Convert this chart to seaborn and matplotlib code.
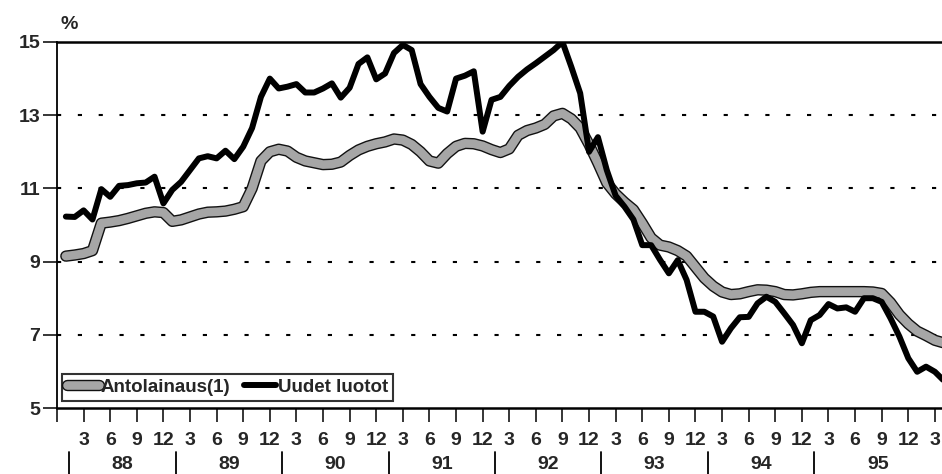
import numpy as np
import pandas as pd
import matplotlib
matplotlib.use("Agg")
import matplotlib.pyplot as plt
import matplotlib.patheffects as pe
import seaborn as sns

# -------------------------------------------------
# DATA (monthly, Jan 1988 = index 0)
# -------------------------------------------------
years = ["88", "89", "90", "91", "92", "93", "94", "95"]
month_labels = ["3", "6", "9", "12"]

antolainaus = [
    9.15, 9.18, 9.22, 9.30, 10.05, 10.08, 10.12, 10.18, 10.25, 10.32, 10.36, 10.34,
    10.10, 10.14, 10.22, 10.30, 10.35, 10.36, 10.38, 10.43, 10.50, 11.00, 11.75, 12.00,
    12.07, 12.02, 11.85, 11.75, 11.70, 11.65, 11.66, 11.72, 11.90, 12.05, 12.15, 12.22,
    12.27, 12.35, 12.32, 12.20, 12.00, 11.75, 11.69, 11.95, 12.15, 12.23, 12.22, 12.16,
    12.06, 11.98, 12.08, 12.45, 12.58, 12.65, 12.75, 12.98, 13.05, 12.90, 12.65, 12.20,
    11.69, 11.15, 10.85, 10.62, 10.42, 10.05, 9.65, 9.45, 9.40, 9.30, 9.15, 8.85,
    8.55, 8.33, 8.17, 8.10, 8.12, 8.18, 8.23, 8.22, 8.18, 8.10, 8.09, 8.12,
    8.16, 8.18, 8.18, 8.18, 8.18, 8.18, 8.18, 8.17, 8.13, 7.88, 7.55, 7.30,
    7.10, 6.98, 6.85, 6.78,
]

uudet_luotot = [
    10.23, 10.22, 10.40, 10.15, 10.98, 10.77, 11.07, 11.09, 11.14, 11.16, 11.32, 10.59,
    10.96, 11.18, 11.50, 11.82, 11.88, 11.82, 12.03, 11.80, 12.14, 12.65, 13.50, 14.00,
    13.73, 13.78, 13.85, 13.62, 13.62, 13.73, 13.87, 13.48, 13.75, 14.40, 14.58, 13.98,
    14.14, 14.70, 14.92, 14.78, 13.85, 13.50, 13.20, 13.10, 14.00, 14.08, 14.20, 12.55,
    13.42, 13.50, 13.80, 14.05, 14.25, 14.42, 14.60, 14.78, 15.00, 14.32, 13.60, 12.00,
    12.40, 11.50, 10.80, 10.50, 10.15, 9.45, 9.45, 9.05, 8.68, 9.04, 8.50, 7.63,
    7.63, 7.50, 6.81, 7.18, 7.48, 7.49, 7.86, 8.04, 7.90, 7.59, 7.27, 6.77,
    7.40, 7.54, 7.84, 7.72, 7.75, 7.63, 8.00, 8.00, 7.90, 7.45, 6.95, 6.36,
    5.99, 6.13, 5.99, 5.75,
]

df = pd.DataFrame({
    "kk": np.arange(len(antolainaus)),
    "Antolainaus(1)": antolainaus,
    "Uudet luotot": uudet_luotot,
})

# -------------------------------------------------
# STYLE
# -------------------------------------------------
sns.set_style("white")
plt.rcParams["font.family"] = ["Liberation Sans", "DejaVu Sans"]
plt.rcParams["font.weight"] = "bold"
FS = 14

fig = plt.figure(figsize=(9.42, 4.74), dpi=100)
ax = fig.add_axes([0.0605, 0.1392, 0.9395, 0.7722])

# gridlines
for g in [7, 9, 11, 13]:
    ax.axhline(g, color="black", lw=1.5, linestyle=(0, (2, 8)), zorder=1)

# gray band series
sns.lineplot(data=df, x="kk", y="Antolainaus(1)", ax=ax, color="#a6a6a6", lw=6.2,
             label="Antolainaus(1)", zorder=3,
             path_effects=[pe.Stroke(linewidth=8.2, foreground="#111111"), pe.Normal()])
sns.lineplot(data=df, x="kk", y="Uudet luotot", ax=ax, color="black", lw=4.3,
             label="Uudet luotot", zorder=4)

ax.set_xlim(-1, 98.8)
ax.set_ylim(5, 15)
ax.set_xlabel("")
ax.set_ylabel("")

# axes
for s in ["left", "bottom", "top"]:
    ax.spines[s].set_visible(True)
    ax.spines[s].set_color("black")
ax.spines["left"].set_linewidth(1.3)
ax.spines["bottom"].set_linewidth(1.8)
ax.spines["top"].set_linewidth(1.8)
ax.spines["right"].set_visible(False)

ax.set_yticks([5, 7, 9, 11, 13, 15])
ax.set_yticklabels(["5", "7", "9", "11", "13", "15"], fontsize=FS, fontweight="bold")
ax.tick_params(axis="y", direction="out", length=10, width=1.3, pad=2, left=True)

xt = np.arange(-1, 99, 3)
xl = [""] + [month_labels[k % 4] for k in range(len(xt) - 1)]
ax.set_xticks(xt)
ax.set_xticklabels(xl, fontsize=FS, fontweight="bold")
ax.tick_params(axis="x", direction="out", length=10, width=1.3, pad=7, bottom=True)

# year separators + year labels
trans = ax.get_xaxis_transform()
seps = [12 * k + 0.4 for k in range(len(years))]
for s in seps:
    ax.plot([s, s], [-0.12, -0.19], color="black", lw=1.3, transform=trans, clip_on=False)
ends = seps[1:] + [ax.get_xlim()[1]]
for yr, a, b in zip(years, seps, ends):
    ax.text((a + b) / 2, -0.155, yr, transform=trans, ha="center", va="center",
            fontsize=FS, fontweight="bold")

ax.text(0.004, 1.025, "%", transform=ax.transAxes, ha="left", va="bottom",
        fontsize=FS, fontweight="bold")

leg = ax.legend(loc="lower left", bbox_to_anchor=(0.006, 0.02), ncol=2, frameon=True,
                fancybox=False, fontsize=13.5, handlelength=1.7, handletextpad=0.1,
                columnspacing=0.75, borderpad=0.25, borderaxespad=0)
leg.get_frame().set_edgecolor("black")
leg.get_frame().set_linewidth(1.5)
for t in leg.get_texts():
    t.set_fontweight("bold")

fig.savefig("out.png", dpi=100)
